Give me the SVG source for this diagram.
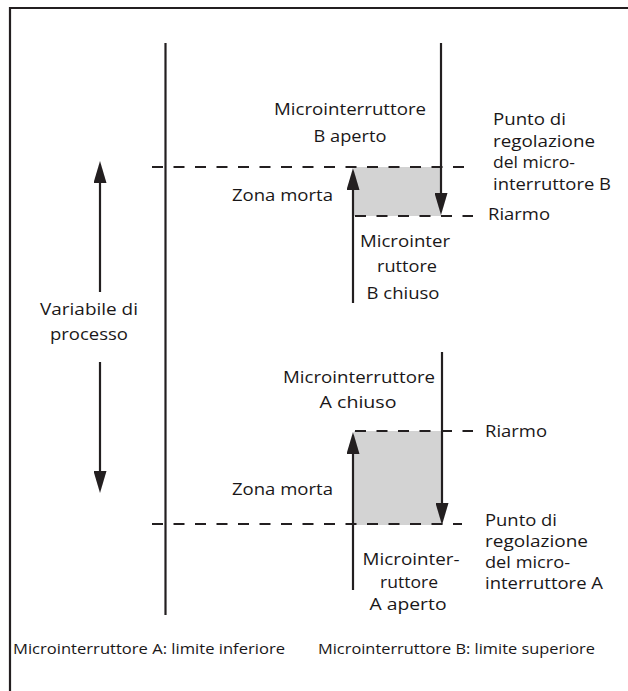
<svg xmlns="http://www.w3.org/2000/svg" width="628" height="691" viewBox="0 0 628 691">
<style>
  .t { font-family: "Open Sans", "Noto Sans", sans-serif; font-size: 17px; fill: #1a1718; }
  .m { text-anchor: middle; }
  .b { font-size: 15px; }
  .ln { stroke: #231f20; stroke-width: 2.2; fill: none; }
  .dash { stroke: #231f20; stroke-width: 2.2; fill: none; stroke-dasharray: 11 10.5; }
  .zone { fill: #d3d3d3; stroke: none; }
  .arr { stroke: #231f20; stroke-width: 2.2; fill: none; marker-end: url(#ah); }
</style>
<defs>
  <marker id="ah" markerUnits="userSpaceOnUse" markerWidth="23" markerHeight="13" refX="1" refY="6.5" orient="auto">
    <path d="M0,0 L22,6.5 L0,13 Z" fill="#231f20"/>
  </marker>
</defs>
<rect width="628" height="691" fill="#ffffff"/>
<path id="frame" class="ln" d="M10,691 V8 H628"/>

<g id="process-axis">
  <line class="ln" x1="165.5" y1="43" x2="165.5" y2="615"/>
</g>

<g id="zone-B">
  <rect class="zone" x="354" y="167" width="87" height="49"/>
</g>
<g id="zone-A">
  <rect class="zone" x="354" y="431" width="88" height="94"/>
</g>

<g id="connectors">
  <line class="dash" x1="152" y1="167" x2="473" y2="167"/>
  <line class="dash" x1="355" y1="216" x2="473" y2="216"/>
  <line class="dash" x1="355" y1="431" x2="473" y2="431"/>
  <line class="dash" x1="152" y1="524" x2="462" y2="524"/>
  <line class="arr" x1="100" y1="292" x2="100" y2="182"/>
  <line class="arr" x1="100" y1="362" x2="100" y2="472"/>
  <line class="arr" x1="441" y1="43" x2="441" y2="194"/>
  <line class="arr" x1="353" y1="303" x2="353" y2="189"/>
  <line class="arr" x1="442" y1="352" x2="442" y2="504"/>
  <line class="arr" x1="353" y1="590" x2="353" y2="453"/>
</g>

<g id="label-variabile">
  <text class="t m" x="89" y="315" textLength="98" lengthAdjust="spacingAndGlyphs">Variabile di</text>
  <text class="t m" x="89" y="340" textLength="78" lengthAdjust="spacingAndGlyphs">processo</text>
</g>

<g id="label-B-aperto">
  <text class="t m" x="350" y="115" textLength="152" lengthAdjust="spacingAndGlyphs">Microinterruttore</text>
  <text class="t m" x="350" y="142" textLength="73" lengthAdjust="spacingAndGlyphs">B aperto</text>
</g>
<g id="label-setpoint-B">
  <text class="t" x="493" y="125" textLength="73" lengthAdjust="spacingAndGlyphs">Punto di</text>
  <text class="t" x="493" y="147" textLength="102" lengthAdjust="spacingAndGlyphs">regolazione</text>
  <text class="t" x="493" y="168" textLength="82" lengthAdjust="spacingAndGlyphs">del micro-</text>
  <text class="t" x="493" y="190" textLength="118" lengthAdjust="spacingAndGlyphs">interruttore B</text>
</g>
<g id="label-zona-B">
  <text class="t" x="232" y="201" textLength="101" lengthAdjust="spacingAndGlyphs">Zona morta</text>
</g>
<g id="label-riarmo-B">
  <text class="t" x="488" y="220" textLength="62" lengthAdjust="spacingAndGlyphs">Riarmo</text>
</g>
<g id="label-B-chiuso">
  <text class="t m" x="405" y="247" textLength="90" lengthAdjust="spacingAndGlyphs">Microinter</text>
  <text class="t m" x="407" y="272" textLength="60" lengthAdjust="spacingAndGlyphs">ruttore</text>
  <text class="t m" x="403" y="299" textLength="73" lengthAdjust="spacingAndGlyphs">B chiuso</text>
</g>

<g id="label-A-chiuso">
  <text class="t m" x="359" y="383" textLength="152" lengthAdjust="spacingAndGlyphs">Microinterruttore</text>
  <text class="t m" x="358" y="408" textLength="77" lengthAdjust="spacingAndGlyphs">A chiuso</text>
</g>
<g id="label-riarmo-A">
  <text class="t" x="485" y="437" textLength="62" lengthAdjust="spacingAndGlyphs">Riarmo</text>
</g>
<g id="label-zona-A">
  <text class="t" x="232" y="495" textLength="101" lengthAdjust="spacingAndGlyphs">Zona morta</text>
</g>
<g id="label-setpoint-A">
  <text class="t" x="485" y="526" textLength="72" lengthAdjust="spacingAndGlyphs">Punto di</text>
  <text class="t" x="485" y="547" textLength="103" lengthAdjust="spacingAndGlyphs">regolazione</text>
  <text class="t" x="485" y="568" textLength="85" lengthAdjust="spacingAndGlyphs">del micro-</text>
  <text class="t" x="485" y="589" textLength="118" lengthAdjust="spacingAndGlyphs">interruttore A</text>
</g>
<g id="label-A-aperto">
  <text class="t m" x="411" y="565" textLength="97" lengthAdjust="spacingAndGlyphs">Microinter-</text>
  <text class="t m" x="409" y="588" textLength="58" lengthAdjust="spacingAndGlyphs">ruttore</text>
  <text class="t m" x="408" y="610" textLength="77" lengthAdjust="spacingAndGlyphs">A aperto</text>
</g>

<g id="caption-A">
  <text class="t b" x="13" y="654" textLength="272" lengthAdjust="spacingAndGlyphs">Microinterruttore A: limite inferiore</text>
</g>
<g id="caption-B">
  <text class="t b" x="318" y="654" textLength="277" lengthAdjust="spacingAndGlyphs">Microinterruttore B: limite superiore</text>
</g>
</svg>
